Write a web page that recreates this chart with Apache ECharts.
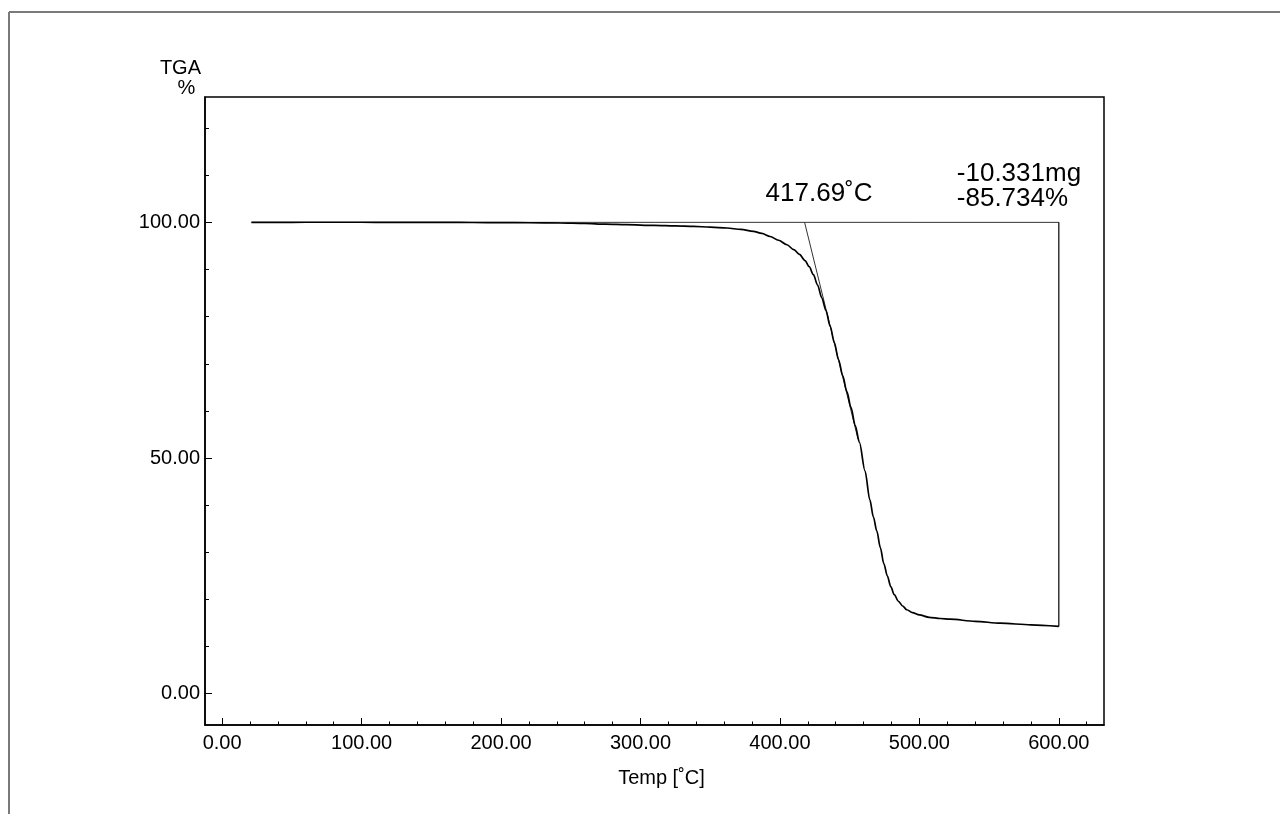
<!DOCTYPE html>
<html><head><meta charset="utf-8">
<script src="https://cdn.jsdelivr.net/npm/echarts@6/dist/echarts.min.js"></script>
<style>html,body{margin:0;padding:0;background:#fff}#c{width:1280px;height:814px}</style>
</head><body><div id="c"></div>
<script>
// ---- data ----
const temps = [21,40,60,80,100,120,140,160,180,200,220,242,260,275,290,310,325,338,350,362,372,381,387,393,399,405,410,414,418,421,424,427,430,433,436,439,442,445,448,451,454,457,461,464.5,467,469.5,472,474.5,477,479.5,482,485,488,491,495,500,507,515,522,540,558,580,600];
const tga   = [100.00,100.01,100.02,100.02,100.02,100.01,100.00,99.99,99.97,99.95,99.92,99.86,99.76,99.62,99.50,99.35,99.25,99.15,99.00,98.80,98.50,98.10,97.65,97.00,96.20,95.25,94.20,93.20,91.90,90.60,88.90,86.70,84.00,81.30,78.00,74.50,70.90,67.50,64.10,60.70,56.90,53.30,47.30,41.10,37.50,34.50,31.00,27.60,25.00,22.70,21.00,19.60,18.60,17.80,17.20,16.70,16.20,15.95,15.80,15.35,14.95,14.60,14.27];
const baselineT = [21, 600];
const baselineW = [100, 100];
const stepT = [600, 600];
const stepW = [100, 14.27];
const tangentT = [417.69, 456];
const tangentW = [100, 54.0];
const xMajor = [0,100,200,300,400,500,600];
const xMinor = [20,40,60,80,120,140,160,180,220,240,260,280,320,340,360,380,420,440,460,480,520,540,560,580,620];
const yMajor = [0,50,100];
const yMinor = [10,20,30,40,60,70,80,90,110,120];
const onsetText = '417.69˚C';
const lossText = ['-10.331mg','-85.734%'];
const xName = 'Temp [˚C]';
const yName = ['TGA','%'];

const FONT = '"Liberation Sans", Arial, sans-serif';
const zip = (a,b)=>a.map((v,i)=>[v,b[i]]);
const chart = echarts.init(document.getElementById('c'), null, {renderer:'canvas'});
const xr = {min:-12.3, max:632.4};
const yr = {min:-6.65, max:126.6};

chart.setOption({
  animation:false,
  backgroundColor:'#fff',
  grid:{left:205, right:176, top:97, bottom:89, show:true, borderColor:'#000', borderWidth:1.5, backgroundColor:'transparent'},
  xAxis:[
    {type:'value', min:xr.min, max:xr.max, position:'bottom',
     axisLine:{onZero:false, lineStyle:{color:'#000', width:1.5}},
     axisTick:{inside:true, length:7, customValues:xMajor, lineStyle:{color:'#000', width:1}},
     axisLabel:{customValues:xMajor, formatter:v=>Number(v).toFixed(2), margin:8, color:'#000', fontSize:20, fontFamily:FONT},
     splitLine:{show:false},
     name:xName, nameLocation:'middle', nameGap:43,
     nameTextStyle:{color:'#000', fontSize:20, fontFamily:FONT, padding:[0,0,0,14]}},
    {type:'value', min:xr.min, max:xr.max, position:'bottom',
     axisLine:{show:false, onZero:false},
     axisTick:{inside:true, length:3.5, customValues:xMinor, lineStyle:{color:'#000', width:1}},
     axisLabel:{show:false}, splitLine:{show:false}}
  ],
  yAxis:[
    {type:'value', min:yr.min, max:yr.max, position:'left',
     axisLine:{show:true, onZero:false, lineStyle:{color:'#000', width:1.5}},
     axisTick:{show:true, inside:true, length:7, customValues:yMajor, lineStyle:{color:'#000', width:1}},
     axisLabel:{customValues:yMajor, formatter:v=>Number(v).toFixed(2), margin:5, color:'#000', fontSize:20, fontFamily:FONT},
     splitLine:{show:false}},
    {type:'value', min:yr.min, max:yr.max, position:'left',
     axisLine:{show:false, onZero:false},
     axisTick:{show:true, inside:true, length:4, customValues:yMinor, lineStyle:{color:'#000', width:1}},
     axisLabel:{show:false}, splitLine:{show:false}}
  ],
  series:[
    {type:'line', data:zip(baselineT, baselineW), showSymbol:false, symbol:'none', lineStyle:{color:'#333', width:1}, silent:true, z:2},
    {type:'line', data:zip(stepT, stepW), showSymbol:false, symbol:'none', lineStyle:{color:'#000', width:1.2}, silent:true, z:2},
    {type:'line', data:zip(tangentT, tangentW), showSymbol:false, symbol:'none', lineStyle:{color:'#333', width:1}, silent:true, z:2},
    {type:'line', data:zip(temps, tga), showSymbol:false, symbol:'none', smooth:0.3, smoothMonotone:'x', lineStyle:{color:'#000', width:1.7}, z:3}
  ]
});

const pOnset = chart.convertToPixel({xAxisIndex:0, yAxisIndex:0}, [tangentT[0], tangentW[0]]);
const pEnd = chart.convertToPixel({xAxisIndex:0, yAxisIndex:0}, [stepT[0], stepW[0]]);
const gridRect = chart.getModel().getComponent('grid').coordinateSystem.getRect();
const txt = (x,y,text,size,align)=>({type:'text', x:x, y:y, silent:true,
  style:{text:text, fill:'#000', font: size+'px '+FONT, textAlign:align||'left', textVerticalAlign:'middle'}});

chart.setOption({
  graphic:[
    {type:'line', silent:true, shape:{x1:9, y1:12, x2:1280, y2:12}, style:{stroke:'#7a7a7a', lineWidth:2}},
    {type:'line', silent:true, shape:{x1:9, y1:12, x2:9, y2:814}, style:{stroke:'#7a7a7a', lineWidth:2}},
    txt(gridRect.x-4, gridRect.y-29, yName[0], 20, 'right'),
    txt(gridRect.x-18.5, gridRect.y-9, yName[1], 20, 'center'),
    txt(pOnset[0]-39, pOnset[1]-29, onsetText, 26, 'left'),
    txt(pEnd[0]-102, pEnd[1]-48.5, lossText[0], 26, 'left'),
    txt(pEnd[0]-102, pEnd[1]-23.5, lossText[1], 26, 'left')
  ]
});
</script></body></html>
